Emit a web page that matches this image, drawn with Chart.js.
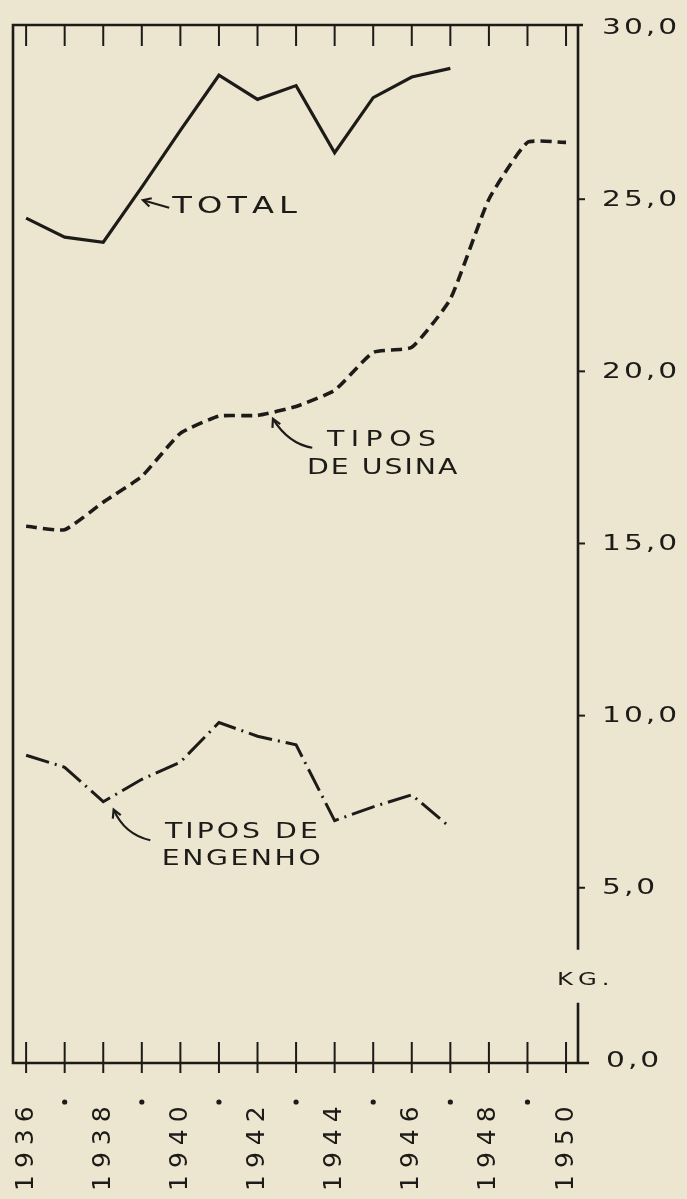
<!DOCTYPE html>
<html>
<head>
<meta charset="utf-8">
<script src="https://cdn.jsdelivr.net/npm/chart.js@4"></script>
<style>
  html, body { margin: 0; padding: 0; background: #ece6d1; }
  #wrap { width: 687px; height: 1199px; position: relative; }
</style>
</head>
<body>
<div id="wrap"><canvas id="chart"></canvas></div>
<script>
// data (kg)
const years = [1936, 1937, 1938, 1939, 1940, 1941, 1942, 1943, 1944, 1945, 1946, 1947, 1948, 1949, 1950];
const total = [24.45, 23.9, 23.75, 25.35, 27.0, 28.6, 27.9, 28.3, 26.35, 27.95, 28.55, 28.8, null, null, null];
const usina = [15.5, 15.4, 16.2, 16.95, 18.2, 18.7, 18.72, 18.98, 19.45, 20.55, 20.7, 22.1, 25.0, 26.65, 26.65];
const engenho = [8.85, 8.5, 7.5, 8.15, 8.65, 9.8, 9.4, 9.15, 6.95, 7.35, 7.7, 6.75, null, null, null];
const yTicks = [0, 5, 10, 15, 20, 25, 30];

const INK = '#1d1b18';
const BG = '#ece6d1';
const FONT = '"DejaVu Sans", sans-serif';

function points(vals) {
    return years.map((yr, i) => ({ x: yr, y: vals[i] })).filter(p => p.y !== null);
}

// hand-lettering look: wide glyphs, drawn one by one with extra spacing
function spacedText(ctx, str, x, y, spacing, hScale = 1.35) {
    let cx = x;
    for (const ch of str) {
        ctx.save();
        ctx.translate(cx, y);
        ctx.scale(hScale, 1);
        ctx.fillText(ch, 0, 0);
        ctx.restore();
        cx += ctx.measureText(ch).width * hScale + spacing;
    }
}

function arrowHead(ctx, fx, fy, tx, ty, len) {
    const a = Math.atan2(ty - fy, tx - fx);
    ctx.beginPath();
    ctx.moveTo(tx - len * Math.cos(a - 0.5), ty - len * Math.sin(a - 0.5));
    ctx.lineTo(tx, ty);
    ctx.lineTo(tx - len * Math.cos(a + 0.5), ty - len * Math.sin(a + 0.5));
    ctx.stroke();
}

const framePlugin = {
    id: 'frame',
    beforeDraw(chart) {
        const ctx = chart.ctx;
        ctx.save();
        ctx.fillStyle = BG;
        ctx.fillRect(0, 0, chart.width, chart.height);
        ctx.restore();
    },
    afterDatasetsDraw(chart) {
        const ctx = chart.ctx;
        const { left, right, top, bottom } = chart.chartArea;
        const xs = chart.scales.x, ys = chart.scales.y;
        const X = v => xs.getPixelForValue(v);
        const Y = v => ys.getPixelForValue(v);
        ctx.save();
        ctx.strokeStyle = INK;
        ctx.fillStyle = INK;
        ctx.lineCap = 'butt';

        // box: top, left, bottom
        ctx.lineWidth = 2.6;
        ctx.beginPath();
        ctx.moveTo(right + 5, top); ctx.lineTo(left, top);
        ctx.lineTo(left, bottom); ctx.lineTo(right + 11, bottom);
        ctx.stroke();

        // right axis, broken for the unit label
        ctx.beginPath();
        ctx.moveTo(right, top); ctx.lineTo(right, Y(3.2));
        ctx.moveTo(right, Y(1.66)); ctx.lineTo(right, bottom);
        ctx.stroke();

        // year ticks, top (inside) and bottom (crossing)
        ctx.lineWidth = 2;
        ctx.beginPath();
        years.forEach(yr => {
            const px = X(yr);
            ctx.moveTo(px, top); ctx.lineTo(px, top + 21);
            ctx.moveTo(px, bottom - 21); ctx.lineTo(px, bottom + 10);
        });
        ctx.stroke();

        // value ticks + labels on the right
        ctx.font = '22px ' + FONT;
        ctx.textBaseline = 'middle';
        ctx.textAlign = 'left';
        yTicks.forEach(v => {
            const py = Y(v);
            if (v > 0 && v < 30) {
                ctx.beginPath();
                ctx.moveTo(right, py); ctx.lineTo(right + 7, py);
                ctx.stroke();
            }
            const lbl = v.toFixed(1).replace('.', ',');
            spacedText(ctx, lbl, right + (v === 0 ? 28 : 24), py + 1, 3);
        });

        // unit
        ctx.font = '18px ' + FONT;
        spacedText(ctx, 'KG.', right - 21, Y(2.32), 5);

        // year labels, rotated, dots on odd years
        ctx.font = '25px ' + FONT;
        years.forEach(yr => {
            const px = X(yr);
            if (yr % 2 === 0) {
                ctx.save();
                ctx.translate(px, bottom + 128);
                ctx.rotate(-Math.PI / 2);
                ctx.textBaseline = 'middle';
                spacedText(ctx, String(yr), 0, 0, 7, 1);
                ctx.restore();
            } else {
                ctx.beginPath();
                ctx.arc(px, bottom + 39, 2.6, 0, Math.PI * 2);
                ctx.fill();
            }
        });

        // series labels with their arrows
        ctx.lineWidth = 2.2;
        ctx.font = '23px ' + FONT;
        spacedText(ctx, 'TOTAL', X(1939.79), Y(24.77), 5, 1.4);
        ctx.beginPath();
        ctx.moveTo(X(1939.71), Y(24.75)); ctx.lineTo(X(1939.03), Y(24.97));
        ctx.stroke();
        arrowHead(ctx, X(1939.71), Y(24.75), X(1939.03), Y(24.97), 9);

        ctx.font = '21px ' + FONT;
        spacedText(ctx, 'TIPOS', X(1943.8), Y(17.98), 6.5);
        spacedText(ctx, 'DE USINA', X(1943.28), Y(17.19), 2);
        ctx.beginPath();
        ctx.moveTo(X(1943.42), Y(17.78));
        ctx.quadraticCurveTo(X(1942.8), Y(17.9), X(1942.4), Y(18.62));
        ctx.stroke();
        arrowHead(ctx, X(1942.6), Y(18.15), X(1942.4), Y(18.62), 9);

        spacedText(ctx, 'TIPOS DE', X(1939.6), Y(6.59), 3);
        spacedText(ctx, 'ENGENHO', X(1939.52), Y(5.83), 2.5);
        ctx.beginPath();
        ctx.moveTo(X(1939.22), Y(6.38));
        ctx.quadraticCurveTo(X(1938.55), Y(6.55), X(1938.27), Y(7.27));
        ctx.stroke();
        arrowHead(ctx, X(1938.45), Y(6.8), X(1938.27), Y(7.27), 9);

        ctx.restore();
    }
};

new Chart(document.getElementById('chart'), {
    type: 'line',
    data: {
        datasets: [
            { label: 'TOTAL', data: points(total), borderColor: INK, borderWidth: 3.2, pointRadius: 0, tension: 0 },
            { label: 'TIPOS DE USINA', data: points(usina), borderColor: INK, borderWidth: 3.6, borderDash: [11, 6], pointRadius: 0, tension: 0.15 },
            { label: 'TIPOS DE ENGENHO', data: points(engenho), borderColor: INK, borderWidth: 3, borderDash: [24, 6, 2, 6], pointRadius: 0, tension: 0 }
        ]
    },
    options: {
        responsive: true,
        maintainAspectRatio: false,
        animation: false,
        layout: { padding: { left: 13, right: 109, top: 25, bottom: 136 } },
        plugins: { legend: { display: false }, tooltip: { enabled: false } },
        scales: {
            x: { type: 'linear', min: 1935.66, max: 1950.31, display: false },
            y: { min: -0.09, max: 30.06, display: false }
        }
    },
    plugins: [framePlugin]
});
</script>
</body>
</html>
